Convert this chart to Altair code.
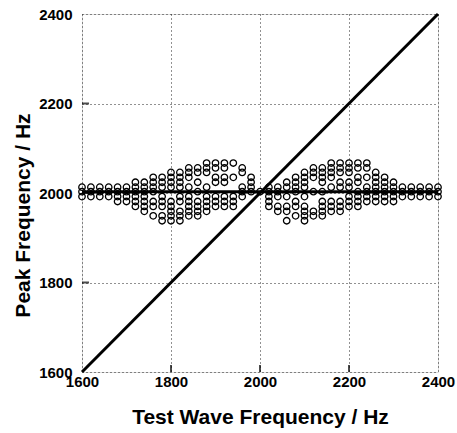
import altair as alt
import pandas as pd

# Test-wave frequencies (Hz), one column of peaks each
test_freq = [1600, 1620, 1640, 1660, 1680, 1700, 1720, 1740, 1760, 1780,
             1800, 1820, 1840, 1860, 1880, 1900, 1920, 1940, 1960, 1980,
             2000, 2020, 2040, 2060, 2080, 2100, 2120, 2140, 2160, 2180,
             2200, 2220, 2240, 2260, 2280, 2300, 2320, 2340, 2360, 2380, 2400]

# Observed peak frequencies (Hz) for each test frequency
peaks = [
    [2013, 2003, 1992],
    [2013, 2003, 1992],
    [2013, 2003, 1992],
    [2013, 2003, 1992],
    [2013, 2003, 1992, 1981],
    [2013, 2003, 1992, 1981],
    [2024, 2013, 2003, 1992, 1981, 1970],
    [2024, 2013, 2003, 1992, 1981, 1970, 1959],
    [2035, 2024, 2013, 2003, 1981, 1970, 1949],
    [2035, 2024, 2013, 1992, 1981, 1970, 1949, 1938],
    [2046, 2035, 2024, 2013, 1981, 1970, 1959, 1949, 1938],
    [2046, 2035, 2024, 2013, 1992, 1981, 1959, 1949, 1938],
    [2056, 2046, 2035, 2013, 1992, 1981, 1970, 1959, 1949],
    [2056, 2046, 2024, 2003, 1981, 1970, 1959, 1949],
    [2067, 2056, 2046, 2013, 1992, 1981, 1970, 1959],
    [2067, 2056, 2035, 2024, 1992, 1981, 1970],
    [2067, 2056, 2035, 2024, 1992, 1981, 1970],
    [2067, 2035, 1992, 1981, 1970],
    [2056, 2046, 2013, 2003, 1992],
    [2035, 2024, 2013, 2003],
    [2003],
    [2013, 2003, 1992, 1981, 1970],
    [2013, 2003, 1992, 1970, 1959],
    [2024, 2013, 1992, 1970, 1959, 1938],
    [2035, 2024, 2013, 2003, 1981, 1970, 1949],
    [2046, 2035, 2024, 2013, 1992, 1970, 1959, 1949, 1938],
    [2056, 2046, 2035, 2003, 1959, 1949],
    [2056, 2046, 2035, 2024, 2003, 1981, 1970, 1959, 1949],
    [2067, 2056, 2046, 2035, 2013, 1981, 1970, 1959],
    [2067, 2056, 2046, 2024, 2013, 1981, 1970, 1959],
    [2067, 2056, 2046, 2024, 2013, 1992, 1981, 1970],
    [2067, 2056, 2035, 2024, 2003, 1992, 1981, 1970],
    [2067, 2056, 2035, 2013, 2003, 1992, 1981],
    [2046, 2035, 2024, 2013, 2003, 1992, 1981],
    [2035, 2024, 2013, 2003, 1992, 1981],
    [2024, 2013, 2003, 1992, 1981],
    [2013, 2003, 1992],
    [2013, 2003, 1992],
    [2013, 2003, 1992],
    [2013, 2003, 1992],
    [2013, 2003, 1992],
]

ideal_x = [1600, 2400]
ideal_y = [1600, 2400]
level_line = [2003]
axis_values = [1600, 1800, 2000, 2200, 2400]
inner_ticks = [1800, 2000, 2200]

points = pd.DataFrame(
    [{"x": f, "y": p} for f, col in zip(test_freq, peaks) for p in col]
)
ideal = pd.DataFrame({"x": ideal_x, "y": ideal_y})
level = pd.DataFrame({"y": level_line})
ticks = pd.DataFrame({"t": inner_ticks})

FONT = "Liberation Sans"
xs = alt.Scale(domain=[1600, 2400], nice=False, zero=False)
ys = alt.Scale(domain=[1600, 2400], nice=False, zero=False)

x_axis = alt.Axis(
    values=axis_values, format="d", ticks=False, domain=False,
    grid=True, gridDash=[1, 3], gridColor="#222", gridWidth=1,
    labelFont=FONT, labelFontSize=15, labelFontWeight="bold", labelColor="black",
    labelPadding=2, labelFlush=False,
    title="Test Wave Frequency / Hz", titleFont=FONT, titleFontSize=21,
    titleFontWeight="bold", titleColor="black",
    titleY=51, titleBaseline="alphabetic",
)
y_axis = alt.Axis(
    values=axis_values, format="d", ticks=False, domain=False,
    grid=True, gridDash=[1, 3], gridColor="#222", gridWidth=1,
    labelFont=FONT, labelFontSize=15, labelFontWeight="bold", labelColor="black",
    labelPadding=10, labelFlush=False,
    title="Peak Frequency / Hz", titleFont=FONT, titleFontSize=21,
    titleFontWeight="bold", titleColor="black",
    titleAngle=270, titleX=-59, titleY=201, titleAlign="center",
    titleBaseline="middle",
)

scatter = alt.Chart(points).mark_point(
    shape="circle", filled=False, size=42, strokeWidth=1.3, color="black", opacity=1
).encode(
    x=alt.X("x:Q", scale=xs, axis=x_axis),
    y=alt.Y("y:Q", scale=ys, axis=y_axis),
)

diag = alt.Chart(ideal).mark_line(color="black", strokeWidth=3).encode(
    x=alt.X("x:Q", scale=xs), y=alt.Y("y:Q", scale=ys)
)

hline = alt.Chart(level).mark_rule(color="black", strokeWidth=3).encode(
    y=alt.Y("y:Q", scale=ys)
)

xticks = alt.Chart(ticks).mark_tick(
    orient="vertical", color="black", size=7, thickness=2, yOffset=-3.5
).encode(x=alt.X("t:Q", scale=xs), y=alt.value(358))

yticks = alt.Chart(ticks).mark_tick(
    orient="horizontal", color="black", size=7, thickness=2, xOffset=3.5
).encode(y=alt.Y("t:Q", scale=ys), x=alt.value(0))

chart = alt.layer(scatter, diag, hline, xticks, yticks).properties(
    width=356, height=358,
    padding={"left": 82, "top": 14, "right": 19, "bottom": 61},
    autosize=alt.AutoSizeParams(type="none"),
).configure_view(
    stroke="black", strokeWidth=2.5
).configure(background="white")

chart.save("out.html", embed_options={"renderer": "svg", "actions": False})
